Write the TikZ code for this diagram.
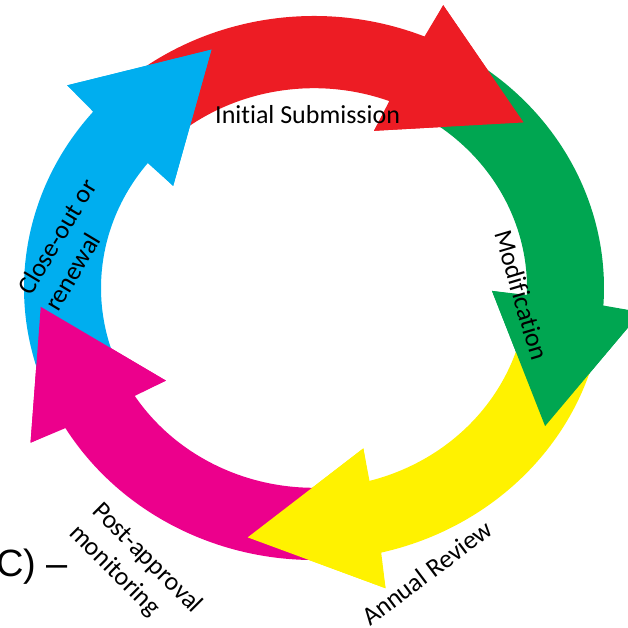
\documentclass[tikz,border=0pt]{standalone}
\usepackage{fontspec}
\setmainfont{Carlito}[Ligatures=NoCommon]
\newfontfamily\arialf{Liberation Sans}
\definecolor{arrred}{RGB}{237,28,36}
\definecolor{arrgreen}{RGB}{0,166,81}
\definecolor{arryellow}{RGB}{255,242,0}
\definecolor{arrmagenta}{RGB}{236,0,140}
\definecolor{arrblue}{RGB}{0,174,239}
% color, tail angle, outer barb angle, tip angle
\newcommand\cycarrow[4]{%
  \fill[#1] (#2:213) -- (#2:290) arc[start angle=#2, end angle={#3+0.8}, radius=290]
    -- (#3:328) -- (#4:274) -- ({#3+3.5}:178) -- ({#3+2.5}:213)
    arc[start angle={#3+2.5}, end angle=#2, radius=213] -- cycle;}
\newcommand\cychead[3]{%
  \fill[#1] (#2:328) -- (#3:274) -- ({#2+3.5}:178) -- cycle;}
\tikzset{
  lbl/.style={inner sep=0pt, anchor=base west, text=black, font=\fontsize{26}{31}\selectfont},
}
\begin{document}
\begin{tikzpicture}[x=1pt,y=1pt]
\useasboundingbox (0,0) rectangle (628,628);
\begin{scope}[shift={(314,340)}, yscale=0.938]
  \cycarrow{arrred}{135}{66.8}{40.1}
  \cycarrow{arrgreen}{60}{-4.5}{-32.5}
  \cycarrow{arryellow}{-9}{-77.4}{-104}
  \cycarrow{arrmagenta}{278}{210.2}{184.2}
  \cycarrow{arrblue}{206}{138.8}{112}
  \cychead{arrred}{66.8}{40.1}
  \cychead{arrgreen}{-4.5}{-32.5}
  \cychead{arryellow}{-77.4}{-104}
  \cychead{arrmagenta}{210.2}{184.2}
  \cychead{arrblue}{138.8}{112}
\end{scope}
\node[lbl] (init) at (215,504) {Initial Submission};
\node[lbl, rotate=-73.4] (modif) at (494,395) {Modification};
\node[lbl, rotate=37] (annual) at (370,1) {Annual Review};
\node[lbl, rotate=-45] (post1) at (91,116) {Post-approval};
\node[lbl, rotate=-45] (post2) at (68,94) {monitoring};
\node[lbl, rotate=59] (close1) at (31,331) {Close-out or};
\node[lbl, rotate=59] (close2) at (58,315) {renewal};
\node[inner sep=0pt, anchor=base west, font=\arialf\fontsize{38}{44}\selectfont] (cdash) at (-4,51) {C) –};
\end{tikzpicture}
\end{document}
